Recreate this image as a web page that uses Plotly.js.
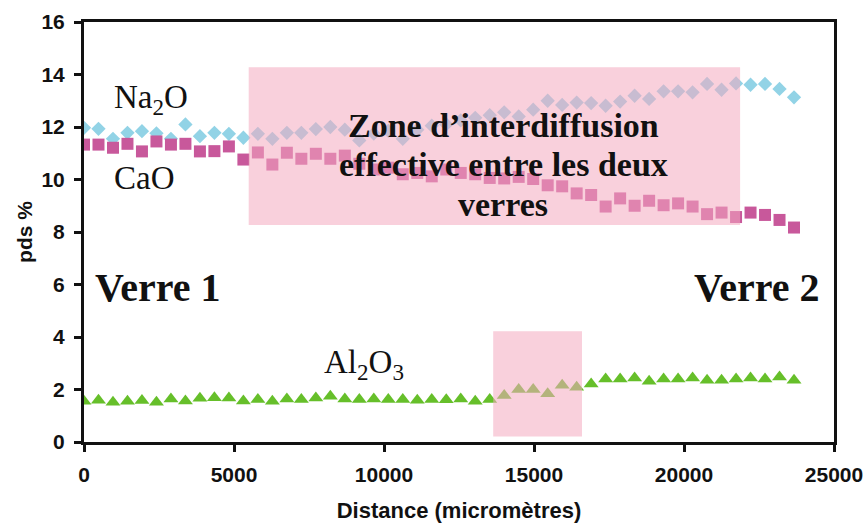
<!DOCTYPE html>
<html>
<head>
<meta charset="utf-8">
<script src="https://cdn.plot.ly/plotly-3.0.1.min.js"></script>
<style>html,body{margin:0;padding:0;background:#fff;}#chart{width:868px;height:526px;}</style>
</head>
<body>
<div id="chart"></div>
<script>
// Distance (micrometres)
const distance = [0, 483, 966, 1449, 1932, 2415, 2898, 3381, 3864, 4347,
  4830, 5313, 5796, 6279, 6762, 7245, 7728, 8211, 8694, 9177,
  9660, 10143, 10626, 11109, 11592, 12075, 12558, 13041, 13524, 14007,
  14490, 14973, 15456, 15939, 16422, 16905, 17388, 17871, 18354, 18837,
  19320, 19803, 20286, 20769, 21252, 21735, 22218, 22701, 23184, 23667];

const na2o = [11.97, 11.93, 11.55, 11.78, 11.84, 11.76, 11.55, 12.10, 11.65, 11.78,
  11.74, 11.59, 11.74, 11.55, 11.78, 11.78, 11.92, 12.00, 11.90, 11.49,
  11.75, 11.85, 11.55, 11.90, 12.05, 12.10, 12.25, 12.35, 12.45, 12.56,
  12.40, 12.66, 13.00, 12.84, 12.93, 12.91, 12.81, 12.97, 13.19, 13.07,
  13.36, 13.36, 13.32, 13.64, 13.42, 13.66, 13.61, 13.64, 13.45, 13.13];

const cao = [11.33, 11.33, 11.21, 11.36, 11.07, 11.45, 11.33, 11.36, 11.07, 11.08,
  11.26, 10.76, 11.03, 10.57, 11.02, 10.79, 10.98, 10.79, 10.91, 10.60,
  10.38, 10.45, 10.20, 10.25, 10.12, 10.38, 10.25, 10.20, 10.06, 10.04,
  10.10, 10.02, 9.78, 9.74, 9.47, 9.41, 8.97, 9.28, 9.00, 9.19,
  9.02, 9.09, 8.97, 8.68, 8.74, 8.57, 8.74, 8.65, 8.46, 8.17];

const al2o3 = [1.55, 1.59, 1.51, 1.55, 1.58, 1.51, 1.64, 1.56, 1.67, 1.69,
  1.68, 1.56, 1.62, 1.55, 1.64, 1.62, 1.68, 1.74, 1.64, 1.62,
  1.64, 1.62, 1.62, 1.59, 1.62, 1.61, 1.64, 1.55, 1.62, 1.77,
  2.00, 2.00, 1.84, 2.16, 2.09, 2.21, 2.40, 2.40, 2.44, 2.31,
  2.40, 2.40, 2.44, 2.35, 2.35, 2.40, 2.44, 2.40, 2.48, 2.35];

const xTicks = [0, 5000, 10000, 15000, 20000, 25000];
const yTicks = [0, 2, 4, 6, 8, 10, 12, 14, 16];

// zones (x0, x1, y0, y1)
const zoneMain = [5490, 21870, 8.27, 14.28];
const zoneAl = [13640, 16600, 0.21, 4.22];

const sans = 'Liberation Sans, Arial, sans-serif';
const serif = 'Liberation Serif, Times New Roman, serif';

const traces = [
  {x: distance, y: na2o, name: 'Na2O', type: 'scatter', mode: 'markers',
   marker: {symbol: 'diamond', size: 11, color: '#92d3e6'}},
  {x: distance, y: cao, name: 'CaO', type: 'scatter', mode: 'markers',
   marker: {symbol: 'square', size: 12, color: '#c8589b'}},
  {x: distance, y: al2o3, name: 'Al2O3', type: 'scatter', mode: 'markers',
   marker: {symbol: 'triangle-up', size: 13, color: '#66bf2a'}}
];

const axisBase = {
  showgrid: false, zeroline: false, showline: true, mirror: true,
  linecolor: '#111', linewidth: 3, ticks: 'outside', ticklen: 7, tickwidth: 3,
  tickcolor: '#111', ticklabelstandoff: 5,
  tickfont: {family: sans, size: 21, color: '#111', weight: 'bold'}
};

const pink = 'rgba(244,170,191,0.55)';
const layout = {
  width: 868, height: 526,
  margin: {l: 84, r: 34, t: 22, b: 84},
  paper_bgcolor: '#fff', plot_bgcolor: '#fff',
  showlegend: false,
  xaxis: Object.assign({}, axisBase, {
    range: [0, 25000], tickvals: xTicks, ticktext: xTicks.map(String),
    title: {text: 'Distance (micromètres)', standoff: 18,
            font: {family: sans, size: 22, color: '#111', weight: 'bold'}}
  }),
  yaxis: Object.assign({}, axisBase, {
    range: [0, 16], tickvals: yTicks, ticktext: yTicks.map(String),
    title: {text: 'pds %', standoff: 4,
            font: {family: sans, size: 21, color: '#111', weight: 'bold'}}
  }),
  shapes: [
    {type: 'rect', xref: 'x', yref: 'y', x0: zoneMain[0], x1: zoneMain[1], y0: zoneMain[2], y1: zoneMain[3],
     fillcolor: pink, line: {width: 0}, layer: 'above'},
    {type: 'rect', xref: 'x', yref: 'y', x0: zoneAl[0], x1: zoneAl[1], y0: zoneAl[2], y1: zoneAl[3],
     fillcolor: pink, line: {width: 0}, layer: 'above'}
  ],
  annotations: [
    {x: 2233, y: 13.06, text: 'Na<sub>2</sub>O', showarrow: false, font: {family: serif, size: 33, color: '#111'}},
    {x: 2000, y: 10.04, text: 'CaO', showarrow: false, font: {family: serif, size: 33, color: '#111'}},
    {x: 9330, y: 2.95, text: 'Al<sub>2</sub>O<sub>3</sub>', showarrow: false, font: {family: serif, size: 33, color: '#111'}},
    {x: 2483, y: 5.9, text: 'Verre 1', showarrow: false, font: {family: serif, size: 40, color: '#111', weight: 'bold'}},
    {x: 22433, y: 5.9, text: 'Verre 2', showarrow: false, font: {family: serif, size: 40, color: '#111', weight: 'bold'}},
    {x: 13967, y: 12.07, text: 'Zone d’interdiffusion', showarrow: false, font: {family: serif, size: 34, color: '#111', weight: 'bold'}},
    {x: 13967, y: 10.56, text: 'effective entre les deux', showarrow: false, font: {family: serif, size: 34, color: '#111', weight: 'bold'}},
    {x: 13967, y: 9.03, text: 'verres', showarrow: false, font: {family: serif, size: 34, color: '#111', weight: 'bold'}}
  ]
};

Plotly.newPlot('chart', traces, layout, {displayModeBar: false, staticPlot: true});
</script>
</body>
</html>
